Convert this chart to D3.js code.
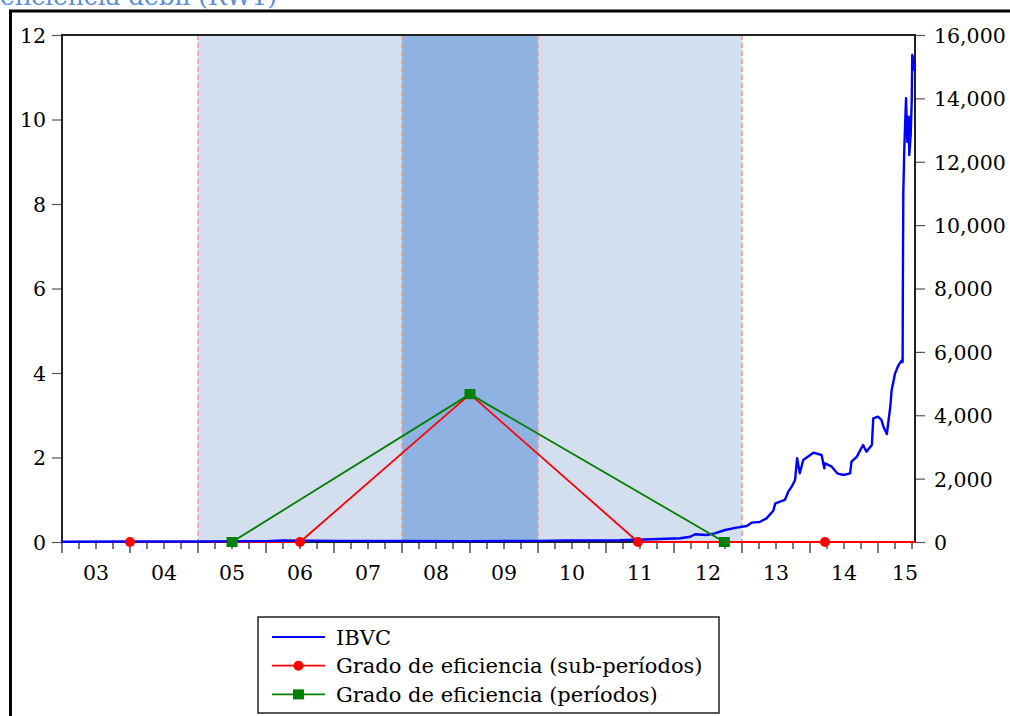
<!DOCTYPE html>
<html>
<head>
<meta charset="utf-8">
<script src="https://cdn.jsdelivr.net/npm/d3@7"></script>
<style>
  html, body { margin: 0; padding: 0; background: #fff; }
  svg { display: block; }
  text { font-family: "DejaVu Serif", serif; fill: #000; }
</style>
</head>
<body>
<svg id="chart" width="1010" height="716"></svg>
<script>
// ---- data -------------------------------------------------------------
const yearLabels = ["03","04","05","06","07","08","09","10","11","12","13","14","15"];
const firstYear = 2003;
const lastDate = 2015.544;

const leftTicks = [0, 2, 4, 6, 8, 10, 12];
const rightTicks = [0, 2000, 4000, 6000, 8000, 10000, 12000, 14000, 16000];

// shaded windows (decimal years) and their tone
const windowStarts = [2005, 2008, 2010];
const windowEnds   = [2008, 2010, 2013];
const windowTone   = ["light", "dark", "light"];

// IBVC index (right axis)
const ibvcDates = [2003.00, 2004.00, 2005.03, 2006.00, 2006.25, 2007.09, 2008.00, 2009.00, 2010.00, 2010.43,
  2011.20, 2011.79, 2012.09, 2012.24, 2012.31, 2012.48, 2012.60, 2012.75, 2012.92, 2013.07,
  2013.14, 2013.26, 2013.36, 2013.46, 2013.49, 2013.63, 2013.68, 2013.73, 2013.78, 2013.81,
  2013.85, 2013.90, 2014.05, 2014.17, 2014.21, 2014.22, 2014.32, 2014.40, 2014.49, 2014.59,
  2014.61, 2014.69, 2014.74, 2014.78, 2014.83, 2014.91, 2014.93, 2015.00, 2015.05, 2015.08,
  2015.13, 2015.18, 2015.20, 2015.25, 2015.30, 2015.35, 2015.362, 2015.365, 2015.372, 2015.386,
  2015.412, 2015.431, 2015.451, 2015.460, 2015.481, 2015.496, 2015.504, 2015.519, 2015.534, 2015.544];
const ibvcValues = [10, 15, 18, 28, 45, 35, 30, 28, 35, 50,
  55, 95, 117, 167, 243, 221, 274, 379, 452, 505,
  610, 631, 747, 988, 1220, 1326, 1588, 1746, 1957, 2641,
  2168, 2588, 2819, 2746, 2325, 2483, 2378, 2167, 2115, 2167,
  2535, 2693, 2904, 3062, 2852, 3062, 3904, 3956, 3851, 3640,
  3409, 4261, 4787, 5313, 5576, 5734, 5681, 7742, 11005, 12372,
  14003, 12625, 13423, 12214, 12846, 13951, 15370, 15212, 14897, 15054];

// efficiency grade by sub-period (left axis); markers on the inner points
const subDates  = [2003.0, 2004.0, 2006.5, 2009.0, 2011.47, 2014.22, lastDate];
const subValues = [0, 0, 0, 3.5, 0, 0, 0];
const subMarked = [false, true, true, true, true, true, false];

// efficiency grade by period (left axis)
const perDates  = [2005.5, 2009.0, 2012.74];
const perValues = [0, 3.5, 0];

const legendLabels = ["IBVC", "Grado de eficiencia (sub-períodos)", "Grado de eficiencia (períodos)"];
const titleText = "eficiencia débil (RW1)";

// ---- layout -----------------------------------------------------------
const svg = d3.select("#chart");
const plot = { left: 62, right: 915, top: 35, bottom: 542 };

const x = d3.scaleLinear().domain([firstYear, lastDate]).range([plot.left, plot.right]);
const yL = d3.scaleLinear().domain([0, 12]).range([plot.bottom, plot.top]);
const yR = d3.scaleLinear().domain([0, 16000]).range([plot.bottom, plot.top]);

const colors = { ibvc: "#0000ff", sub: "#ff0000", per: "#008000",
                 light: "#d3deee", dark: "#8eb2e1", guide: "#f09a9e" };

// caption fragment at the very top
svg.append("text")
  .attr("x", 0).attr("y", 4.5)
  .attr("textLength", 277).attr("lengthAdjust", "spacingAndGlyphs")
  .style("font-size", "24px").style("fill", "#5b8fd4")
  .text(titleText);

// outer frame
svg.append("rect")
  .attr("x", 10.5).attr("y", 11).attr("width", 1010).attr("height", 720)
  .attr("fill", "none").attr("stroke", "#000").attr("stroke-width", 3);

// shaded windows
svg.append("g").selectAll("rect")
  .data(windowStarts.map((s, i) => ({ s, e: windowEnds[i], tone: windowTone[i] })))
  .join("rect")
  .attr("x", d => x(d.s)).attr("y", plot.top)
  .attr("width", d => x(d.e) - x(d.s)).attr("height", plot.bottom - plot.top)
  .attr("fill", d => colors[d.tone]);

// dashed boundaries
const bounds = Array.from(new Set(windowStarts.concat(windowEnds)));
svg.append("g").selectAll("line")
  .data(bounds).join("line")
  .attr("x1", d => x(d)).attr("x2", d => x(d))
  .attr("y1", plot.top).attr("y2", plot.bottom)
  .attr("stroke", colors.guide).attr("stroke-width", 1.6)
  .attr("stroke-dasharray", "5,3");

// left axis
const leftAxis = d3.axisLeft(yL).tickValues(leftTicks).tickSize(10).tickPadding(6)
  .tickFormat(d3.format("d"));
const gL = svg.append("g").attr("transform", `translate(${plot.left},0)`).call(leftAxis);

// right axis
const rightAxis = d3.axisRight(yR).tickValues(rightTicks).tickSize(10).tickPadding(9)
  .tickFormat(d3.format(","));
const gR = svg.append("g").attr("transform", `translate(${plot.right},0)`).call(rightAxis);

[gL, gR].forEach(g => {
  g.select(".domain").remove();
  g.selectAll(".tick line").attr("stroke", "#555").attr("stroke-width", 1.2);
  g.selectAll(".tick text").style("font-size", "20.5px").attr("dy", "0.36em");
});

// bottom axis: quarterly ticks, year starts longer
const quarterTicks = [];
for (let t = firstYear; t <= lastDate + 1e-9; t += 0.25) quarterTicks.push(+t.toFixed(2));
const gB = svg.append("g").attr("transform", `translate(0,${plot.bottom})`);
gB.selectAll("line").data(quarterTicks).join("line")
  .attr("x1", d => x(d)).attr("x2", d => x(d))
  .attr("y1", 1).attr("y2", d => Number.isInteger(d) ? 11 : 7)
  .attr("stroke", "#222").attr("stroke-width", 1.2);
gB.selectAll("text").data(yearLabels).join("text")
  .each(function (lab, i) {
    const mid = x(firstYear + i + 0.5);
    const clamp = mid + 13 > plot.right + 3;
    d3.select(this)
      .attr("x", clamp ? plot.right + 3 : mid)
      .attr("text-anchor", clamp ? "end" : "middle");
  })
  .attr("y", 38)
  .style("font-size", "20.5px")
  .text(d => d);

// plot frame
svg.append("rect")
  .attr("x", plot.left).attr("y", plot.top)
  .attr("width", plot.right - plot.left).attr("height", plot.bottom - plot.top)
  .attr("fill", "none").attr("stroke", "#222").attr("stroke-width", 2);

// series
const subLine = d3.line().x((d, i) => x(subDates[i])).y(d => yL(d));
svg.append("path").datum(subValues)
  .attr("d", subLine).attr("fill", "none")
  .attr("stroke", colors.sub).attr("stroke-width", 1.8);

const ibvcLine = d3.line().x((d, i) => x(ibvcDates[i])).y(d => yR(d));
svg.append("path").datum(ibvcValues)
  .attr("d", ibvcLine).attr("fill", "none")
  .attr("stroke", colors.ibvc).attr("stroke-width", 2.4).attr("stroke-linejoin", "round");

const perLine = d3.line().x((d, i) => x(perDates[i])).y(d => yL(d));
svg.append("path").datum(perValues)
  .attr("d", perLine).attr("fill", "none")
  .attr("stroke", colors.per).attr("stroke-width", 1.8);

svg.append("g").selectAll("circle")
  .data(subValues.map((v, i) => ({ t: subDates[i], v, m: subMarked[i] })).filter(d => d.m))
  .join("circle")
  .attr("cx", d => x(d.t)).attr("cy", d => yL(d.v)).attr("r", 5)
  .attr("fill", colors.sub);

svg.append("g").selectAll("rect")
  .data(perValues.map((v, i) => ({ t: perDates[i], v })))
  .join("rect")
  .attr("x", d => x(d.t) - 5.5).attr("y", d => yL(d.v) - 5)
  .attr("width", 11).attr("height", 10)
  .attr("fill", colors.per);

// legend
const lg = svg.append("g");
lg.append("rect")
  .attr("x", 258).attr("y", 617).attr("width", 461).attr("height", 96)
  .attr("fill", "#fff").attr("stroke", "#222").attr("stroke-width", 1.5);
const legendColors = [colors.ibvc, colors.sub, colors.per];
const legendMarks = [null, "circle", "square"];
legendLabels.forEach((lab, i) => {
  const cy = 637 + i * 28.7;
  lg.append("line")
    .attr("x1", 272).attr("x2", 325).attr("y1", cy).attr("y2", cy)
    .attr("stroke", legendColors[i]).attr("stroke-width", 1.8);
  if (legendMarks[i] === "circle") {
    lg.append("circle").attr("cx", 298.5).attr("cy", cy).attr("r", 5).attr("fill", legendColors[i]);
  } else if (legendMarks[i] === "square") {
    lg.append("rect").attr("x", 293).attr("y", cy - 5).attr("width", 11).attr("height", 10)
      .attr("fill", legendColors[i]);
  }
  lg.append("text")
    .attr("x", 336).attr("y", cy + 7.5)
    .style("font-size", "21px")
    .text(lab);
});
</script>
</body>
</html>
